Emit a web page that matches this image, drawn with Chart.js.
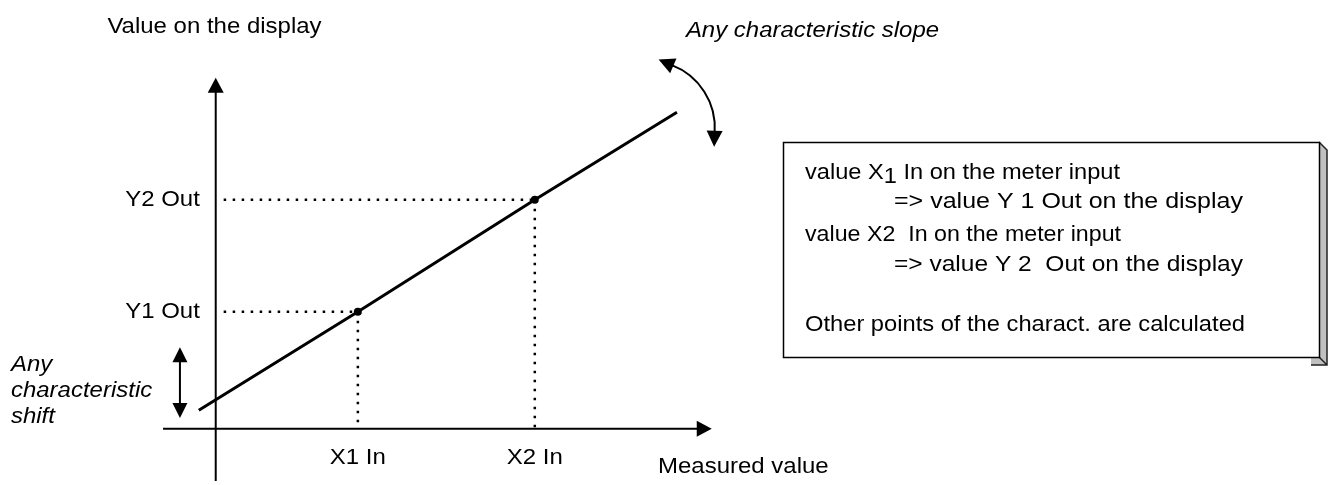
<!DOCTYPE html>
<html>
<head>
<meta charset="utf-8">
<script src="https://cdn.jsdelivr.net/npm/chart.js@4.4.0/dist/chart.umd.min.js"></script>
<style>
  html, body { margin: 0; padding: 0; background: #fff; }
  #wrap { width: 1332px; height: 485px; }
</style>
</head>
<body>
<div id="wrap"><canvas id="chart" width="1332" height="485"></canvas></div>
<script>
// Two calibration points (1 unit = 10 px, origin where the axes cross)
const inputLabels = ['X1 In', 'X2 In'];
const outputLabels = ['Y1 Out', 'Y2 Out'];
const inputValues = [14.3, 32.1];
const outputValues = [11.9, 23.3];

// The characteristic line as drawn
const lineX = [-1.7, 14.3, 32.1, 46.4];
const lineY = [1.9, 11.9, 23.3, 32.2];

// Axis extents
const xAxisRange = [-5.3, 49.9];
const yAxisRange = [-5.3, 35.7];

// Text in the note box
const noteLines = [
  ['value X', '1', ' In on the meter input'],
  ['=> value Y 1 Out on the display'],
  ['value X2  In on the meter input'],
  ['=> value Y 2  Out on the display'],
  ['Other points of the charact. are calculated']
];

const FONT = '"Liberation Sans", Arial, sans-serif';
const SX = 1.09; // the original text is a little wider than Arial

function seg(x0, y0, x1, y1) {
  return [{ x: x0, y: y0 }, { x: x1, y: y1 }];
}

const guides = [];
inputValues.forEach(function(xv, i) {
  guides.push(seg(0.8, outputValues[i], xv, outputValues[i]));
  guides.push(seg(xv, outputValues[i], xv, 0));
});

const datasets = [];

// points
datasets.push({
  data: inputValues.map((x, i) => ({ x: x, y: outputValues[i] })),
  showLine: false,
  pointRadius: 4,
  pointBackgroundColor: '#000',
  pointBorderWidth: 0
});

// characteristic
datasets.push({
  data: lineX.map((x, i) => ({ x: x, y: lineY[i] })),
  showLine: true,
  borderColor: '#000',
  borderWidth: 3,
  pointRadius: 0
});

// dotted helper lines
guides.forEach(function(g) {
  datasets.push({
    data: g,
    showLine: true,
    borderColor: '#000',
    borderWidth: 2.5,
    borderDash: [2.5, 6.5],
    pointRadius: 0
  });
});

// axes
datasets.push({
  data: seg(xAxisRange[0], 0, xAxisRange[1] - 1, 0),
  showLine: true, borderColor: '#000', borderWidth: 2, pointRadius: 0
});
datasets.push({
  data: seg(0, yAxisRange[0], 0, yAxisRange[1] - 1),
  showLine: true, borderColor: '#000', borderWidth: 2, pointRadius: 0
});

function arrowHead(ctx, tx, ty, dx, dy, len, wid) {
  const l = Math.hypot(dx, dy);
  const ux = dx / l, uy = dy / l;
  const bx = tx - ux * len, by = ty - uy * len;
  ctx.beginPath();
  ctx.moveTo(tx, ty);
  ctx.lineTo(bx - uy * wid / 2, by + ux * wid / 2);
  ctx.lineTo(bx + uy * wid / 2, by - ux * wid / 2);
  ctx.closePath();
  ctx.fill();
}

function text(ctx, str, x, y, align, sx) {
  const k = sx || SX;
  ctx.save();
  ctx.translate(x, y);
  ctx.scale(k, 1);
  ctx.textAlign = align || 'left';
  ctx.fillText(str, 0, 0);
  ctx.restore();
  return ctx.measureText(str).width * k;
}

const decorations = {
  id: 'decorations',
  afterDatasetsDraw(chart) {
    const ctx = chart.ctx;
    const xs = chart.scales.x, ys = chart.scales.y;
    const px = v => xs.getPixelForValue(v);
    const py = v => ys.getPixelForValue(v);
    const unit = px(1) - px(0);

    ctx.save();
    ctx.fillStyle = '#000';
    ctx.strokeStyle = '#000';

    // axis arrows
    arrowHead(ctx, px(xAxisRange[1]), py(0), 1, 0, 15, 16);
    arrowHead(ctx, px(0), py(yAxisRange[1]), 0, -1, 15, 16);

    // shift double arrow
    const sx = px(-3.6), sTop = py(8.3), sBot = py(1.1);
    ctx.lineWidth = 2;
    ctx.beginPath();
    ctx.moveTo(sx, sTop + 10);
    ctx.lineTo(sx, sBot - 10);
    ctx.stroke();
    arrowHead(ctx, sx, sTop, 0, -1, 15, 15);
    arrowHead(ctx, sx, sBot, 0, 1, 15, 15);

    // slope curved arrow
    const cx = px(43.47), cy = py(30.62), r = 6.74 * unit;
    const a0 = -69 * Math.PI / 180, a1 = 4 * Math.PI / 180;
    const t0 = -81 * Math.PI / 180, t1 = 16 * Math.PI / 180;
    ctx.beginPath();
    ctx.arc(cx, cy, r, a0, a1);
    ctx.stroke();
    const rt = r + 2;
    const tipA = [cx + rt * Math.cos(t0), cy + rt * Math.sin(t0)];
    const baseA = [cx + r * Math.cos(a0 + 0.1), cy + r * Math.sin(a0 + 0.1)];
    arrowHead(ctx, tipA[0], tipA[1], tipA[0] - baseA[0], tipA[1] - baseA[1], 16, 16);
    const tipB = [cx + rt * Math.cos(t1), cy + rt * Math.sin(t1)];
    const baseB = [cx + r * Math.cos(a1 - 0.1), cy + r * Math.sin(a1 - 0.1)];
    arrowHead(ctx, tipB[0], tipB[1], tipB[0] - baseB[0], tipB[1] - baseB[1], 16, 16);

    // labels
    ctx.font = '22px ' + FONT;
    outputLabels.forEach(function(lbl, i) {
      ctx.textBaseline = 'middle';
      text(ctx, lbl, px(-1.6), py(outputValues[i]), 'right');
    });
    ctx.textBaseline = 'alphabetic';
    inputLabels.forEach(function(lbl, i) {
      text(ctx, lbl, px(inputValues[i]), py(-3.6), 'center');
    });
    text(ctx, 'Measured value', px(44.5), py(-4.5));
    text(ctx, 'Value on the display', px(-10.9), py(40.3));

    ctx.font = 'italic 22px ' + FONT;
    text(ctx, 'Any characteristic slope', px(47.3), py(39.8));
    text(ctx, 'Any', px(-20.6), py(5.9));
    text(ctx, 'characteristic', px(-20.6), py(3.2));
    text(ctx, 'shift', px(-20.6), py(0.6));

    // note box with 3D edge
    const bL = 783, bT = 142, bR = 1319, bB = 357, d = 8;
    ctx.fillStyle = '#c0c0c0';
    ctx.beginPath();
    ctx.moveTo(bR, bT);
    ctx.lineTo(bR + d, bT + d);
    ctx.lineTo(bR + d, bB + d);
    ctx.lineTo(bR - d, bB + d);
    ctx.lineTo(bR - d, bB);
    ctx.lineTo(bR, bB);
    ctx.closePath();
    ctx.fill();
    ctx.lineWidth = 1.5;
    ctx.strokeStyle = '#222';
    ctx.beginPath();
    ctx.moveTo(bR, bT);
    ctx.lineTo(bR + d, bT + d);
    ctx.lineTo(bR + d, bB + d);
    ctx.lineTo(bR - d, bB + d);
    ctx.moveTo(bR, bB);
    ctx.lineTo(bR + d, bB + d);
    ctx.stroke();
    ctx.fillStyle = '#fff';
    ctx.fillRect(bL, bT, bR - bL, bB - bT);
    ctx.lineWidth = 1.5;
    ctx.strokeStyle = '#000';
    ctx.strokeRect(bL + 0.5, bT + 0.5, bR - bL, bB - bT);

    // each note line is fitted between a start and an end column
    ctx.fillStyle = '#000';
    ctx.font = '22px ' + FONT;
    const lx = [805, 894, 805, 894, 805];
    const rx = [1120, 1243, 1121, 1243, 1245];
    const ly = [179, 208, 241, 271, 331];
    noteLines.forEach(function(parts, i) {
      const natural = ctx.measureText(parts.join('')).width;
      const k = (rx[i] - lx[i]) / natural;
      let x = lx[i];
      parts.forEach(function(p, j) {
        const dy = (i === 0 && j === 1) ? 4 : 0;
        x += text(ctx, p, x, ly[i] + dy, 'left', k);
      });
    });

    ctx.restore();
  }
};

new Chart(document.getElementById('chart'), {
  type: 'scatter',
  data: { datasets: datasets },
  options: {
    responsive: false,
    animation: false,
    events: [],
    layout: { padding: 0 },
    plugins: {
      legend: { display: false },
      tooltip: { enabled: false },
      title: { display: false }
    },
    scales: {
      x: { type: 'linear', min: -21.3, max: 111.9, display: false },
      y: { type: 'linear', min: -5.3, max: 43.2, display: false }
    }
  },
  plugins: [decorations]
});
</script>
</body>
</html>
